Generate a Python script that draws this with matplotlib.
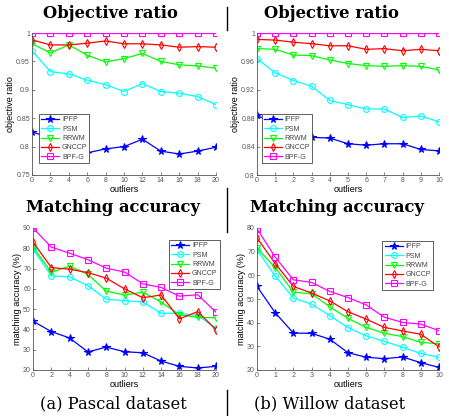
import numpy as np
import matplotlib
matplotlib.use("Agg")
import matplotlib.pyplot as plt

plt.rcParams['font.family'] = ['Liberation Sans', 'DejaVu Sans']

methods = ['IPFP', 'PSM', 'RRWM', 'GNCCP', 'BPF-G']
colors = ['#0000ff', '#00ffff', '#00ff00', '#ff0000', '#ff00ff']
markers = ['*', 'o', 'v', 'd', 's']

# Pascal dataset, outliers 0..20 step 2
pascal_x = [0, 2, 4, 6, 8, 10, 12, 14, 16, 18, 20]
pascal_obj = {
    'IPFP':  [0.826, 0.815, 0.800, 0.789, 0.796, 0.800, 0.813, 0.792, 0.787, 0.792, 0.799],
    'PSM':   [0.969, 0.932, 0.928, 0.917, 0.909, 0.897, 0.911, 0.897, 0.894, 0.888, 0.874],
    'RRWM':  [0.981, 0.965, 0.979, 0.961, 0.949, 0.955, 0.964, 0.950, 0.944, 0.942, 0.938],
    'GNCCP': [0.988, 0.979, 0.979, 0.982, 0.986, 0.981, 0.981, 0.979, 0.975, 0.976, 0.975],
    'BPF-G': [1.0] * 11,
}
pascal_acc = {
    'IPFP':  [44.1, 38.9, 35.8, 28.9, 31.3, 29.0, 28.5, 24.4, 21.8, 21.0, 21.8],
    'PSM':   [79.5, 66.4, 65.9, 61.6, 54.9, 54.2, 53.5, 48.0, 47.9, 46.9, 40.6],
    'RRWM':  [80.6, 68.2, 71.2, 67.1, 58.9, 56.9, 58.4, 53.5, 47.2, 46.0, 45.7],
    'GNCCP': [83.1, 70.5, 69.7, 68.0, 65.3, 60.0, 55.6, 57.0, 45.2, 48.8, 39.8],
    'BPF-G': [90.0, 80.6, 77.6, 74.4, 70.2, 68.3, 62.5, 60.7, 56.4, 57.1, 48.5],
}

# Willow dataset, outliers 0..10
willow_x = [0, 1, 2, 3, 4, 5, 6, 7, 8, 9, 10]
willow_obj = {
    'IPFP':  [0.884, 0.872, 0.860, 0.853, 0.852, 0.844, 0.842, 0.844, 0.844, 0.836, 0.834],
    'PSM':   [0.964, 0.944, 0.933, 0.925, 0.905, 0.899, 0.893, 0.893, 0.881, 0.883, 0.875],
    'RRWM':  [0.978, 0.977, 0.969, 0.968, 0.962, 0.957, 0.954, 0.953, 0.954, 0.953, 0.948],
    'GNCCP': [0.991, 0.990, 0.987, 0.985, 0.982, 0.982, 0.977, 0.978, 0.975, 0.977, 0.975],
    'BPF-G': [1.0] * 11,
}
willow_acc = {
    'IPFP':  [55.3, 44.2, 35.6, 35.5, 33.0, 27.3, 25.4, 24.8, 25.5, 23.1, 21.1],
    'PSM':   [70.8, 59.7, 50.4, 47.8, 43.0, 37.9, 34.4, 32.1, 29.6, 27.0, 25.4],
    'RRWM':  [71.5, 63.3, 52.9, 52.2, 46.7, 41.8, 38.0, 35.5, 34.1, 31.7, 31.1],
    'GNCCP': [75.8, 65.0, 55.3, 52.5, 49.2, 44.6, 41.5, 38.0, 36.5, 35.1, 29.8],
    'BPF-G': [79.7, 67.7, 58.1, 57.0, 53.2, 50.6, 47.5, 42.3, 40.1, 39.4, 36.6],
}

W, H = 449, 416
fig = plt.figure(figsize=(W / 100, H / 100), dpi=100)

def px_axes(x0, y0, x1, y1):
    return fig.add_axes([x0 / W, 1 - y1 / H, (x1 - x0) / W, (y1 - y0) / H])

def draw(ax, x, data, ylim, yticks, ylabels, xticks, ylab, leg_loc, leg_anchor):
    for m, c, mk in zip(methods, colors, markers):
        ax.plot(x, data[m], color=c, marker=mk, lw=0.9, ms=4.2 if mk != '*' else 5.5,
                mfc='none' if mk != '*' else c, mew=0.8, label=m)
    ax.set_xlim(x[0], x[-1])
    ax.set_ylim(*ylim)
    ax.set_xticks(xticks)
    ax.set_yticks(yticks)
    ax.set_yticklabels(ylabels)
    for s in ['top', 'right']:
        ax.spines[s].set_visible(False)
    for s in ['left', 'bottom']:
        ax.spines[s].set_color('#555555')
        ax.spines[s].set_linewidth(0.6)
    ax.tick_params(direction='in', length=2, width=0.5, labelsize=5, colors='#555555',
                   pad=1.5)
    ax.set_xlabel('outliers', fontsize=6.5, labelpad=1)
    ax.set_ylabel(ylab, fontsize=6.5, labelpad=1)
    leg = ax.legend(loc=leg_loc, bbox_to_anchor=leg_anchor, borderaxespad=0,
                    fontsize=5, fancybox=False, framealpha=1, edgecolor='#444444',
                    handlelength=2.6, labelspacing=0.35, borderpad=0.3,
                    handletextpad=0.4)
    leg.get_frame().set_linewidth(0.6)
    for t in leg.get_texts():
        t.set_color('#444444')

ax1 = px_axes(32, 33, 216, 175)
draw(ax1, pascal_x, pascal_obj, (0.75, 1.0), [0.75, 0.8, 0.85, 0.9, 0.95, 1.0],
     ['0.75', '0.8', '0.85', '0.9', '0.95', '1'], pascal_x, 'objective ratio',
     'lower left', (0.038, 0.085))
ax2 = px_axes(257, 33, 439, 175)
draw(ax2, willow_x, willow_obj, (0.8, 1.0), [0.8, 0.84, 0.88, 0.92, 0.96, 1.0],
     ['0.8', '0.84', '0.88', '0.92', '0.96', '1'], willow_x, 'objective ratio',
     'lower left', (0.027, 0.085))
ax3 = px_axes(33, 228, 216, 370)
draw(ax3, pascal_x, pascal_acc, (20, 90), list(range(20, 91, 10)),
     [str(v) for v in range(20, 91, 10)], pascal_x, 'matching accuracy (%)',
     'upper right', (1.02, 0.915))
ax4 = px_axes(257, 228, 439, 370)
draw(ax4, willow_x, willow_acc, (20, 80), list(range(20, 81, 10)),
     [str(v) for v in range(20, 81, 10)], willow_x, 'matching accuracy (%)',
     'upper right', (0.967, 0.908))

# titles and captions
for xc in [110, 331]:
    fig.text(xc / W, 1 - 13 / H, 'Objective ratio', family='DejaVu Serif',
             weight='bold', fontsize=11.8, ha='center', va='center')
for xc in [113, 337]:
    fig.text(xc / W, 1 - 208 / H, 'Matching accuracy', family='DejaVu Serif',
             weight='bold', fontsize=11.8, ha='center', va='center')
fig.text(113 / W, 1 - 404 / H, '(a) Pascal dataset', family='DejaVu Serif',
         fontsize=11.8, ha='center', va='center')
fig.text(330 / W, 1 - 404 / H, '(b) Willow dataset', family='DejaVu Serif',
         fontsize=11.8, ha='center', va='center')

# separator segments
for y0, y1 in [(7, 30), (188, 232), (390, 416)]:
    fig.add_artist(plt.Line2D([226.5 / W, 226.5 / W], [1 - y0 / H, 1 - y1 / H],
                              color='black', lw=1.0))

fig.savefig('out.png', dpi=100)
